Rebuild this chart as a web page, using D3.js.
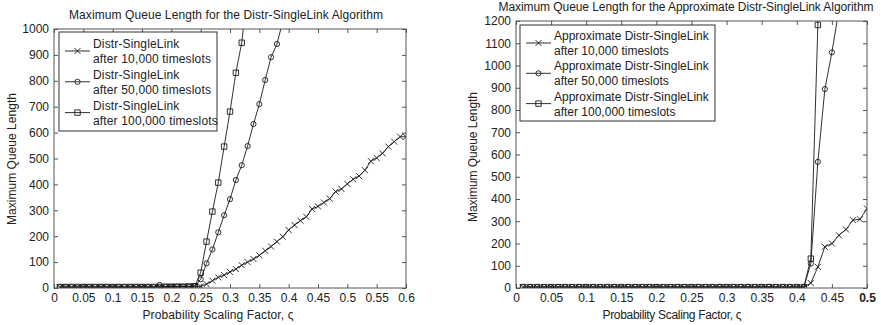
<!DOCTYPE html>
<html>
<head>
<meta charset="utf-8">
<script src="https://cdnjs.cloudflare.com/ajax/libs/d3/7.8.5/d3.min.js"></script>
<style>
  body { margin: 0; background: #fff; }
  svg { display: block; font-family: "Liberation Sans", Arial, sans-serif; }
  .axis path { display: none; }
  .axis line { stroke: #555; }
  .axis text { fill: #222; font-size: 12px; font-family: "Liberation Sans", Arial, sans-serif; }
</style>
</head>
<body>
<svg id="chart" width="881" height="325"></svg>
<script>
// ---- data ----
var leftRho = [0.01,0.02,0.03,0.04,0.05,0.06,0.07,0.08,0.09,0.10,
               0.11,0.12,0.13,0.14,0.15,0.16,0.17,0.18,0.19,0.20,
               0.21,0.22,0.23,0.24,0.25,0.26,0.27,0.28,0.29,0.30,
               0.31,0.32,0.33,0.34,0.35,0.36,0.37,0.38,0.39,0.40,
               0.41,0.42,0.43,0.44,0.45,0.46,0.47,0.48,0.49,0.50,
               0.51,0.52,0.53,0.54,0.55,0.56,0.57,0.58,0.59,0.60];
var leftAfter10k = [3,3,2,3,3,3,2,3,3,3,3,2,3,3,3,3,3,4,4,5,5,6,5,5,
                    6,15,28,41,50,62,73,88,100,112,
                    126,144,160,179,198,224,243,260,275,305,
                    315,330,345,372,382,402,420,432,455,490,
                    502,520,546,565,584,584];
var leftAfter50k = [3,3,3,2,3,3,3,3,3,2,3,3,3,3,3,3,3,12,4,4,5,5,5,
                    6,34,95,149,215,281,343,417,474,548,633,710,803,891,942,1030];
var leftAfter100k = [4,4,4,4,4,4,4,4,4,4,4,4,4,4,4,4,4,4,5,5,5,5,6,7,
                     59,179,295,407,546,681,831,947,1150];

var rightRho = [0.01,0.02,0.03,0.04,0.05,0.06,0.07,0.08,0.09,0.10,
                0.11,0.12,0.13,0.14,0.15,0.16,0.17,0.18,0.19,0.20,
                0.21,0.22,0.23,0.24,0.25,0.26,0.27,0.28,0.29,0.30,
                0.31,0.32,0.33,0.34,0.35,0.36,0.37,0.38,0.39,0.40,
                0.41,0.42,0.43,0.44,0.45,0.46,0.47,0.48,0.49,0.50];
var rightAfter10k = [3,3,3,3,3,3,3,3,3,3,3,3,3,3,3,3,3,3,3,3,
                     3,3,3,3,3,3,3,4,4,3,3,3,4,3,3,4,3,3,3,3,
                     3,22,95,185,200,237,263,305,309,357];
var rightAfter50k = [4,4,4,4,4,4,4,4,4,4,4,4,4,4,4,4,4,4,4,4,
                     4,4,4,4,4,4,4,4,5,4,4,4,5,4,4,5,4,4,4,4,
                     4,110,567,894,1059,1250];
var rightAfter100k = [4,4,4,4,4,4,4,4,4,4,4,4,4,4,4,4,4,4,4,4,
                      4,4,4,4,4,4,4,4,4,4,4,4,4,4,4,4,4,4,4,4,
                      4,132,1182,2400];

var leftXTicks = [0,0.05,0.1,0.15,0.2,0.25,0.3,0.35,0.4,0.45,0.5,0.55,0.6];
var leftYTicks = [0,100,200,300,400,500,600,700,800,900,1000];
var rightXTicks = [0,0.05,0.1,0.15,0.2,0.25,0.3,0.35,0.4,0.45,0.5];
var rightYTicks = [0,100,200,300,400,500,600,700,800,900,1000,1100,1200];

var leftLegend = [["Distr-SingleLink", "after 10,000 timeslots"],
                  ["Distr-SingleLink", "after 50,000 timeslots"],
                  ["Distr-SingleLink", "after 100,000 timeslots"]];
var rightLegend = [["Approximate Distr-SingleLink", "after 10,000 timeslots"],
                   ["Approximate Distr-SingleLink", "after 50,000 timeslots"],
                   ["Approximate Distr-SingleLink", "after 100,000 timeslots"]];
var markers = ["x", "circle", "square"];

var leftTitle = "Maximum Queue Length for the Distr-SingleLink Algorithm";
var rightTitle = "Maximum Queue Length for the Approximate Distr-SingleLink Algorithm";
var xLabel = "Probability Scaling Factor, \u03C2";
var yLabel = "Maximum Queue Length";

var svg = d3.select("#chart");
var lineColor = "#1a1a1a";

function markerPath(type, cx, cy) {
  if (type == "x") {
    return "M" + (cx - 3) + "," + (cy - 3) + "L" + (cx + 3) + "," + (cy + 3) +
           "M" + (cx - 3) + "," + (cy + 3) + "L" + (cx + 3) + "," + (cy - 3);
  }
  if (type == "square") {
    return "M" + (cx - 2.7) + "," + (cy - 2.7) + "h5.4v5.4h-5.4Z";
  }
  // circle
  return "M" + (cx - 2.6) + "," + cy + "a2.6,2.6 0 1,0 5.2,0a2.6,2.6 0 1,0 -5.2,0Z";
}

function label(g, txt, len) {
  // matlab's helvetica runs a bit wider than liberation, so pin the length
  return g.append("text")
    .attr("text-anchor", "middle")
    .attr("font-size", 12)
    .attr("fill", "#222")
    .attr("textLength", len)
    .attr("lengthAdjust", "spacing")
    .text(txt);
}

function drawPanel(opts) {
  var x = d3.scaleLinear().domain(opts.xDomain).range([opts.left, opts.right]);
  var y = d3.scaleLinear().domain(opts.yDomain).range([opts.bottom, opts.top]);
  var g = svg.append("g");

  g.append("clipPath").attr("id", opts.id + "-clip")
    .append("rect")
      .attr("x", opts.left).attr("y", opts.top)
      .attr("width", opts.right - opts.left)
      .attr("height", opts.bottom - opts.top);

  // axes, ticks pointing inward like matlab
  var xAxis = g.append("g").attr("class", "axis")
    .attr("transform", "translate(0," + opts.bottom + ")")
    .call(d3.axisBottom(x).tickValues(opts.xTicks).tickFormat(String)
      .tickSizeInner(-4).tickSizeOuter(0).tickPadding(5));
  g.append("g").attr("class", "axis")
    .attr("transform", "translate(0," + opts.top + ")")
    .call(d3.axisTop(x).tickValues(opts.xTicks).tickFormat("")
      .tickSizeInner(-4).tickSizeOuter(0));
  g.append("g").attr("class", "axis")
    .attr("transform", "translate(" + opts.left + ",0)")
    .call(d3.axisLeft(y).tickValues(opts.yTicks).tickFormat(String)
      .tickSizeInner(-4).tickSizeOuter(0).tickPadding(5));
  g.append("g").attr("class", "axis")
    .attr("transform", "translate(" + opts.right + ",0)")
    .call(d3.axisRight(y).tickValues(opts.yTicks).tickFormat("")
      .tickSizeInner(-4).tickSizeOuter(0));

  if (opts.boldLast) {
    xAxis.selectAll("text").filter(function(d, i, n){ return i == n.length - 1; })
      .style("font-weight", "bold");
  }

  // series
  var plot = g.append("g").attr("clip-path", "url(#" + opts.id + "-clip)");
  var line = d3.line()
    .x(function(d){ return x(d[0]); })
    .y(function(d){ return y(d[1]); });

  opts.series.forEach(function(vals, k){
    var pts = vals.map(function(v, i){ return [opts.rho[i], v]; });
    plot.append("path")
      .datum(pts)
      .attr("fill", "none")
      .attr("stroke", lineColor)
      .attr("stroke-width", 0.9)
      .attr("d", line);
    plot.selectAll(".m" + k)
      .data(pts)
      .enter()
      .append("path")
      .attr("class", "m" + k)
      .attr("fill", "none")
      .attr("stroke", lineColor)
      .attr("stroke-width", 0.9)
      .attr("d", function(d){ return markerPath(markers[k], x(d[0]), y(d[1])); });
  });

  // box
  g.append("rect")
    .attr("x", opts.left).attr("y", opts.top)
    .attr("width", opts.right - opts.left)
    .attr("height", opts.bottom - opts.top)
    .attr("fill", "none")
    .attr("stroke", "#555")
    .attr("stroke-width", 1);

  // legend
  var lg = opts.legend;
  var leg = g.append("g");
  leg.append("rect")
    .attr("x", lg.x).attr("y", lg.y)
    .attr("width", lg.w).attr("height", lg.h)
    .attr("fill", "#fff")
    .attr("stroke", "#333")
    .attr("stroke-width", 1);
  opts.legendText.forEach(function(rows, k){
    var ly = lg.firstY + k * lg.step;
    leg.append("line")
      .attr("x1", lg.x + 6).attr("x2", lg.x + 31)
      .attr("y1", ly).attr("y2", ly)
      .attr("stroke", lineColor).attr("stroke-width", 0.9);
    leg.append("path")
      .attr("fill", "none").attr("stroke", lineColor).attr("stroke-width", 0.9)
      .attr("d", markerPath(markers[k], lg.x + 18.5, ly));
    rows.forEach(function(t, r){
      leg.append("text")
        .attr("x", lg.x + 34)
        .attr("y", ly - 3 + r * 15)
        .attr("font-size", 12)
        .attr("letter-spacing", lg.spacing)
        .attr("fill", "#222")
        .text(t);
    });
  });

  // labels
  label(g, opts.title, opts.titleLen)
    .attr("x", opts.titleX).attr("y", opts.titleY);
  label(g, xLabel, opts.xLabelLen)
    .attr("x", opts.xLabelX).attr("y", 319);
  label(g, yLabel, opts.yLabelLen)
    .attr("transform", "translate(" + opts.yLabelX + "," + opts.yLabelY + ") rotate(-90)");
}

drawPanel({
  id: "left",
  left: 54, right: 406, top: 29, bottom: 288,
  xDomain: [0, 0.6], yDomain: [0, 1000],
  xTicks: leftXTicks, yTicks: leftYTicks,
  rho: leftRho,
  series: [leftAfter10k, leftAfter50k, leftAfter100k],
  legendText: leftLegend,
  legend: { x: 59, y: 32, w: 158, h: 99, firstY: 51, step: 30.8, spacing: 0.15 },
  title: leftTitle, titleX: 226, titleY: 19, titleLen: 314,
  xLabelX: 218, xLabelLen: 151,
  yLabelX: 16, yLabelY: 159, yLabelLen: 132
});

drawPanel({
  id: "right",
  left: 516, right: 867, top: 21, bottom: 288,
  xDomain: [0, 0.5], yDomain: [0, 1200],
  xTicks: rightXTicks, yTicks: rightYTicks,
  rho: rightRho,
  series: [rightAfter10k, rightAfter50k, rightAfter100k],
  legendText: rightLegend,
  legend: { x: 520, y: 25, w: 195, h: 96, firstY: 43, step: 30.3, spacing: 0 },
  boldLast: true,
  title: rightTitle, titleX: 686, titleY: 11, titleLen: 375,
  xLabelX: 672, xLabelLen: 139,
  yLabelX: 477, yLabelY: 157, yLabelLen: 130
});
</script>
</body>
</html>
